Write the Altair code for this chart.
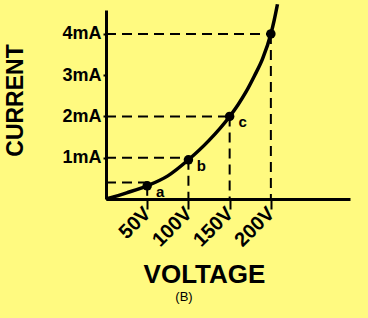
import altair as alt
import pandas as pd

# Curve of current (mA) versus voltage (V)
curve_v = [0, 25, 50, 75, 100, 125, 150, 160, 170, 180, 190, 200, 204, 208]
curve_i = [0, 0.15, 0.32, 0.56, 0.95, 1.42, 2.0, 2.28, 2.6, 2.98, 3.4, 4.0, 4.33, 4.72]

# Marked points and their labels
point_v = [50, 100, 150, 200]
point_i = [0.32, 0.95, 2.0, 4.0]
point_lbl = ["a", "b", "c", ""]
guide_i = [0.4, 1.0, 2.0, 4.0]

x_ticks = [50, 100, 150, 200]
y_ticks = [1, 2, 3, 4]

BG = "#FFFA80"
FONT = "Liberation Sans"

curve_df = pd.DataFrame({"v": curve_v, "i": curve_i})
pts_df = pd.DataFrame({"v": point_v, "i": point_i, "lbl": point_lbl,
                       "g": guide_i, "zero": [0] * len(point_v)})

xs = alt.Scale(domain=[0, 296], nice=False, zero=True)
ys = alt.Scale(domain=[0, 4.58], nice=False, zero=True)

x_axis = alt.Axis(values=x_ticks, labelExpr="datum.value + 'V'", grid=False,
                  domainColor="black", domainWidth=3, tickColor="black",
                  tickWidth=2, tickSize=10, labelAngle=-45, labelAlign="right",
                  labelBaseline="middle", labelFont=FONT, labelFontSize=20,
                  labelFontWeight="bold", labelColor="black", labelPadding=1,
                  labelOverlap=False, labelBound=False, labelFlush=False,
                  title="VOLTAGE", titleFont=FONT, titleFontSize=26,
                  titleFontWeight="bold", titleColor="black", titleX=98,
                  titleY=83, titleAlign="center", titleBaseline="alphabetic",
                  titleAnchor="middle")
y_axis = alt.Axis(values=y_ticks, labelExpr="datum.value + 'mA'", grid=False,
                  domainColor="black", domainWidth=3, tickColor="black",
                  tickWidth=2, tickSize=3, labelFont=FONT, labelFontSize=18,
                  labelFontWeight="bold", labelColor="black", labelPadding=2,
                  labelOverlap=False, labelFlush=False,
                  title="CURRENT", titleFont=FONT, titleFontSize=23,
                  titleFontWeight="bold", titleColor="black", titleX=-91,
                  titleY=90, titleAngle=-90, titleAlign="center",
                  titleBaseline="middle", titleAnchor="middle")

base_pts = alt.Chart(pts_df)

hguide = base_pts.mark_rule(color="black", strokeWidth=2, strokeDash=[10, 6]).encode(
    x=alt.X("zero:Q", scale=xs, axis=x_axis),
    x2="v:Q",
    y=alt.Y("g:Q", scale=ys, axis=y_axis),
)
vguide = base_pts.mark_rule(color="black", strokeWidth=2, strokeDash=[10, 6]).encode(
    x=alt.X("v:Q", scale=xs),
    y=alt.Y("i:Q", scale=ys),
    y2="zero:Q",
)
line = alt.Chart(curve_df).mark_line(color="black", strokeWidth=3.5,
                                     interpolate="monotone").encode(
    x=alt.X("v:Q", scale=xs), y=alt.Y("i:Q", scale=ys))
dots = base_pts.mark_circle(color="black", opacity=1, size=90).encode(
    x=alt.X("v:Q", scale=xs), y=alt.Y("i:Q", scale=ys))
lbls = base_pts.mark_text(font=FONT, fontSize=15, fontWeight="bold",
                          color="black", dx=13, dy=6).encode(
    x=alt.X("v:Q", scale=xs), y=alt.Y("i:Q", scale=ys), text="lbl:N")
caption = alt.Chart(pd.DataFrame({"t": ["(B)"]})).mark_text(
    font=FONT, fontSize=13, color="black").encode(
    x=alt.value(78), y=alt.value(287), text="t:N")

chart = alt.layer(hguide, vguide, line, dots, lbls, caption).properties(
    width=244, height=189,
    autosize=alt.AutoSizeParams(type="none"),
    padding={"left": 106, "top": 10, "right": 18, "bottom": 119},
    background=BG,
).configure_view(stroke=None)

chart.save("out.html", embed_options={"renderer": "svg", "actions": False})
